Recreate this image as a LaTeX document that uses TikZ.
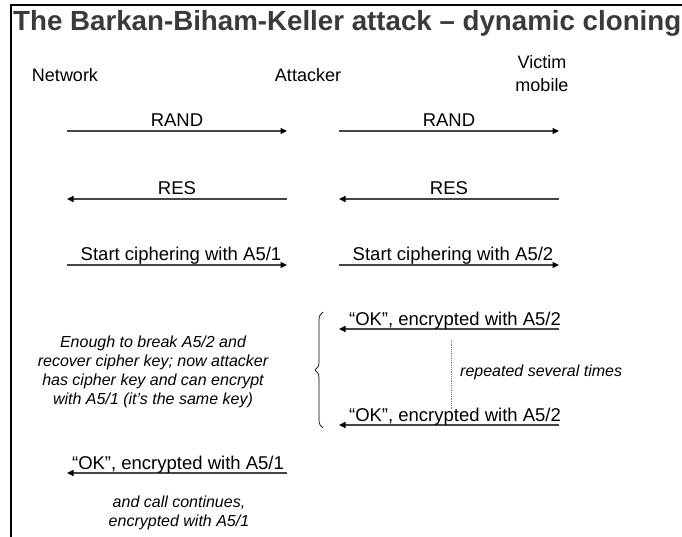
\documentclass[tikz,border=0pt]{standalone}
\usepackage{fontspec}
\setmainfont{Liberation Sans}
\usetikzlibrary{arrows.meta,decorations.pathreplacing}
\definecolor{titlegray}{HTML}{3A3A3A}
\definecolor{linegray}{HTML}{454545}

\begin{document}
\begin{tikzpicture}[x=1pt,y=-1pt,
  lbl/.style={font=\fontsize{18.5}{21}\selectfont, inner sep=0pt, anchor=base},
  party/.style={font=\fontsize{18}{23}\selectfont, inner sep=0pt, align=center},
  note/.style={font=\fontsize{16}{18.8}\selectfont\itshape, align=center, inner sep=0pt},
  msg/.style={draw=linegray, line width=1.2pt,
    -{Triangle[length=6.5pt,width=6pt,color=black]}}]
  % page and frame
  \useasboundingbox (0,0) rectangle (682,537);
  \fill[white] (0,0) rectangle (682,537);
  \draw[line width=2pt] (682,5.5) -- (10.5,5.5) -- (10.5,537);

  \node[font=\fontsize{27.7}{30}\selectfont\bfseries, text=titlegray,
        anchor=base west, inner sep=0pt] (title) at (13,31)
        {The Barkan-Biham-Keller attack – dynamic cloning};

  % parties
  \node[party] (net) at (65,75) {Network};
  \node[party] (att) at (308,75) {Attacker};
  \node[party] (vic) at (542,74) {Victim\\mobile};

  % lane end points
  \foreach \r/\y in {a/131,b/199,c/265,d/329,e/425,f/473}{
    \coordinate (N\r) at (67,\y);
    \coordinate (AL\r) at (287,\y);
    \coordinate (AR\r) at (339,\y);
    \coordinate (V\r) at (559,\y);
  }

  % authentication
  \draw[msg] (Na) -- (ALa);
  \node[lbl] (rand1) at (177,127) {RAND};
  \draw[msg] (ARa) -- (Va);
  \node[lbl] (rand2) at (449,127) {RAND};

  \draw[msg] (ALb) -- (Nb);
  \node[lbl] (res1) at (177,195) {RES};
  \draw[msg] (Vb) -- (ARb);
  \node[lbl] (res2) at (449,195) {RES};

  % cipher mode commands
  \draw[msg] (Nc) -- (ALc);
  \node[lbl] (sc1) at (181,261) {Start ciphering with A5/1};
  \draw[msg] (ARc) -- (Vc);
  \node[lbl] (sc2) at (453,261) {Start ciphering with A5/2};

  % encrypted replies from the victim
  \draw[msg] (Vd) -- (ARd);
  \node[lbl] (ok1) at (455,325) {“OK”, encrypted with A5/2};
  \draw[msg] (Ve) -- (ARe);
  \node[lbl] (ok2) at (455,421) {“OK”, encrypted with A5/2};
  \draw[gray, densely dotted, line width=0.8pt] (451,340) -- (451,410);
  \node[note, anchor=west] (rep) at (460,372) {repeated several times};
  \draw[decorate, decoration={brace, amplitude=8pt}, line width=0.7pt]
    (323,428) -- (323,312);

  \node[note] (brk) at (153,372)
    {Enough to break A5/2 and\\recover cipher key; now attacker\\has cipher key and can encrypt\\with A5/1 (it’s the same key)};

  % forged reply towards the network
  \draw[msg] (ALf) -- (Nf);
  \node[lbl] (ok3) at (178,469) {“OK”, encrypted with A5/1};
  \node[note] (cont) at (179,513) {and call continues,\\encrypted with A5/1};
\end{tikzpicture}
\end{document}
